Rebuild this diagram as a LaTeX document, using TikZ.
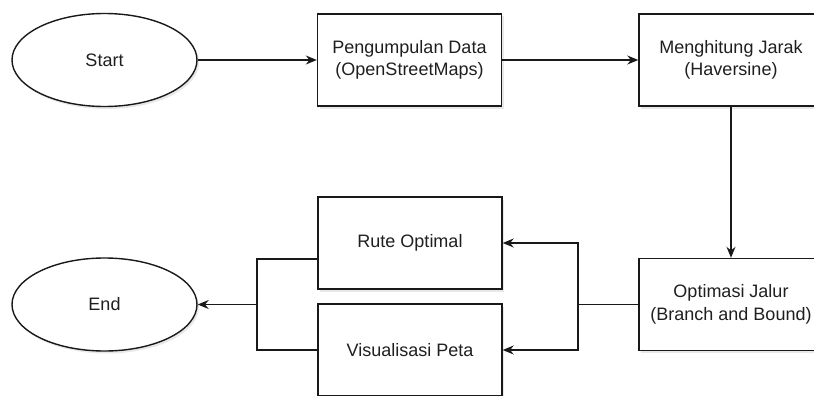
\documentclass[tikz,border=0pt]{standalone}
\usepackage{fontspec}
\setmainfont{Liberation Sans}
\usetikzlibrary{arrows.meta,shapes.geometric,shadows,calc}
\begin{document}
\begin{tikzpicture}[x=1pt,y=-1pt,
  every node/.style={font=\fontsize{18}{22.5}\selectfont, text=black!88},
  shad/.style={drop shadow={shadow xshift=2pt,shadow yshift=-2.5pt,opacity=0.18}},
  procbox/.style={draw=black!90,line width=1.4pt,fill=white,shad,minimum width=184pt,minimum height=92pt,inner sep=0pt,align=center},
  termnode/.style={ellipse,draw=black!90,line width=1.4pt,fill=white,shad,minimum width=185pt,minimum height=93pt,inner sep=0pt},
  conn/.style={draw=black!90,line width=1.4pt},
  arr/.style={conn,-{Stealth[length=11pt,width=9pt]}}]
\useasboundingbox (0,0) rectangle (814,396);
\clip (0,0) rectangle (814,396);
\node[termnode] (start) at (104.5,60) {Start};
\node[procbox] (data) at (409.5,60) {Pengumpulan Data\\(OpenStreetMaps)};
\node[procbox] (jarak) at (731,60) {Menghitung Jarak\\(Haversine)};
\node[procbox] (opt) at (731,304.5) {Optimasi Jalur\\(Branch and Bound)};
\node[procbox] (rute) at (410,243) {Rute Optimal};
\node[procbox] (vis) at (410,350) {Visualisasi Peta};
\node[termnode] (end) at (104.5,304.5) {End};
\coordinate (j1) at (578,304.5);
\coordinate (j2) at (257,304.5);
\draw[arr] (start.east) -- (data.west);
\draw[arr] (data.east) -- (jarak.west);
\draw[arr] (jarak.south) -- (opt.north);
\draw[conn] (opt.west) -- (j1);
\draw[arr] (j1) |- (rute.east);
\draw[arr] (j1) |- (vis.east);
\draw[conn] ($(rute.west)+(0,16)$) -| (j2);
\draw[conn] (vis.west) -| (j2);
\draw[arr] (j2) -- (end.east);
\end{tikzpicture}
\end{document}
